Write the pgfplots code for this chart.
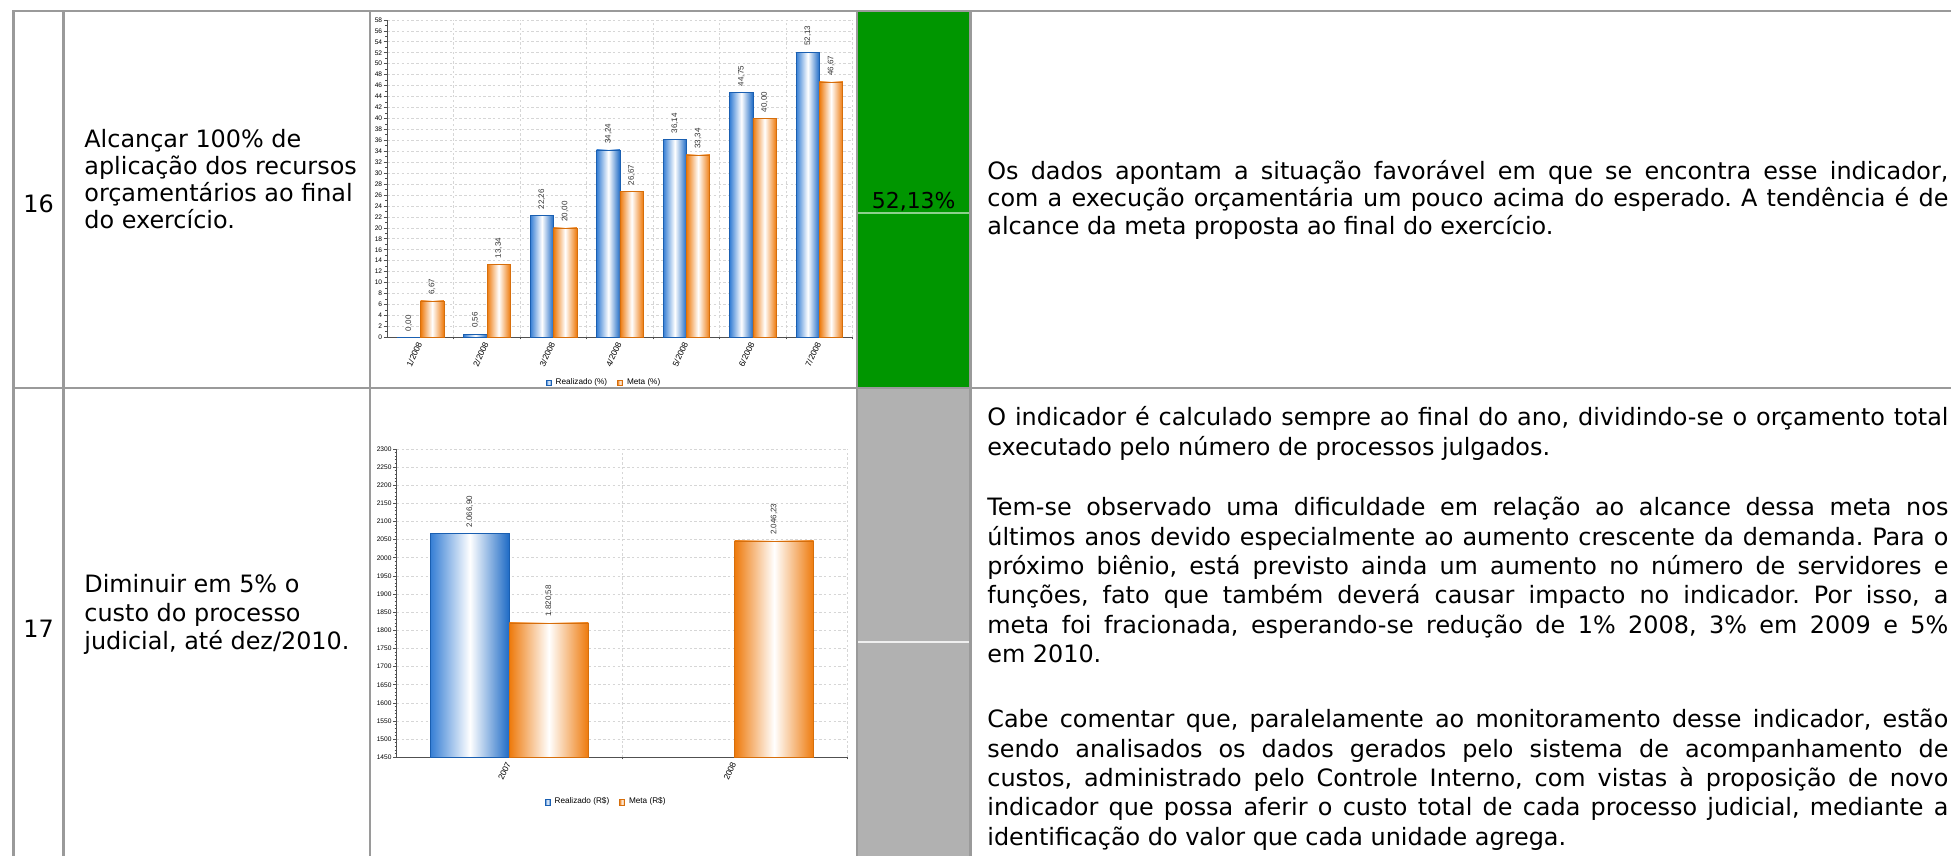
\documentclass[border=0pt]{standalone}
\usepackage{pgfplots}
\pgfplotsset{compat=1.18}
\usepackage{fontspec}
\setmainfont{DejaVu Sans}
\newfontfamily\chartfont{Liberation Sans}
\definecolor{tblline}{HTML}{9A9A9A}
\definecolor{cellgreen}{HTML}{009600}
\definecolor{cellgray}{HTML}{B1B1B1}
\definecolor{barblue}{HTML}{1F70D0}
\definecolor{barorange}{HTML}{EE7A0C}
\definecolor{gridc}{HTML}{D6D6D6}
\definecolor{axisc}{HTML}{505050}

\newcommand\bodyfont{\fontsize{11.95bp}{14bp}\selectfont\frenchspacing}
\newcommand\JL[1]{\makebox[480.5bp][s]{#1}}

\pgfplotsset{
  chartstyle/.style={
    scale only axis,
    axis x line*=bottom, axis y line*=left,
    axis line style={axisc, line width=0.5bp, -},
    enlargelimits=false,
    tick align=outside,
    major tick length=1.8bp, minor tick length=1bp,
    tick style={axisc, line width=0.35bp},
    major x tick style={draw=none},
    minor x tick style={axisc, line width=0.35bp},
    ymajorgrids, xminorgrids,
    major grid style={gridc, dash pattern=on 1.2bp off 1.2bp, line width=0.35bp},
    minor grid style={gridc, dash pattern=on 1.2bp off 1.2bp, line width=0.35bp},
    /pgf/number format/assume math mode=true,
    /pgf/number format/1000 sep={},
    yticklabel style={font=\chartfont\fontsize{3.3bp}{4bp}\selectfont, inner sep=0.6bp},
    xticklabel style={font=\chartfont\fontsize{4.2bp}{5bp}\selectfont, rotate=65, anchor=east, inner sep=0.8bp},
    nodes near coords={\pgfmathprintnumber[fixed,fixed zerofill,precision=2,use comma,1000 sep={.}]{\pgfplotspointmeta}},
    legend style={draw=none, fill=none, font=\chartfont\fontsize{4.1bp}{5bp}\selectfont, legend columns=2, /tikz/every even column/.append style={column sep=3bp}, inner sep=0pt},
    legend image code/.code={\draw[#1] (0bp,-1.3bp) rectangle (2.6bp,1.3bp);},
  },
  lblstyle/.style={every node near coord/.style={xshift=#1, rotate=90, anchor=west, font=\chartfont\fontsize{4bp}{5bp}\selectfont, inner xsep=3bp, inner ysep=0.5bp, color=black!80}},
  realstyle/.style={draw=barblue!85!black, line width=0.3bp, left color=barblue!90!white, right color=barblue!95!black, middle color=white},
  metastyle/.style={draw=barorange!90!black, line width=0.3bp, left color=barorange, right color=barorange, middle color=white},
}

\begin{document}
\begin{tikzpicture}
\useasboundingbox (0,0) rectangle (975.5bp,-428bp);
\clip (0,0) rectangle (975.5bp,-428bp);

\begin{scope}[x=0.5bp,y=-0.5bp, every node/.style={inner sep=0pt, font=\bodyfont}]
  % coloured cells
  \fill[cellgreen] (857,11) rectangle (970.5,388);
  \fill[cellgray] (857,388) rectangle (970.5,900);
  \draw[cellgreen!45!white, line width=0.6bp] (857,213) -- (970.5,213);
  \draw[white!80!cellgray, line width=0.6bp] (857,642) -- (970.5,642);
  % table lines
  \draw[tblline, line width=1.4bp] (12.8,11) -- (2000,11) (12.8,388) -- (2000,388);
  \foreach \x in {13.5,63.5,370,857,970.5} \draw[tblline, line width=1.4bp] (\x,10.3) -- (\x,900);

  % row 16
  \node[anchor=base] at (38.6,213) {16};
  \node[anchor=base west] at (84,148) {Alcançar 100\% de};
  \node[anchor=base west] at (84,174.7) {aplicação dos recursos};
  \node[anchor=base west] at (84,201.4) {orçamentários ao final};
  \node[anchor=base west] at (84,228.1) {do exercício.};
  \node[anchor=base, font=\fontsize{10.95bp}{13bp}\selectfont] at (913.7,209) {52,13\%};
  \node[anchor=base west] at (987,179.5) {\JL{Os dados apontam a situação favorável em que se encontra esse indicador,}};
  \node[anchor=base west] at (987,207) {\JL{com a execução orçamentária um pouco acima do esperado. A tendência é de}};
  \node[anchor=base west] at (987,234.5) {alcance da meta proposta ao final do exercício.};

  % row 17
  \node[anchor=base] at (38.6,638) {17};
  \node[anchor=base west] at (84,593) {Diminuir em 5\% o};
  \node[anchor=base west] at (84,621.5) {custo do processo};
  \node[anchor=base west] at (84,650) {judicial, até dez/2010.};

  \node[anchor=base west] at (987,426) {\JL{O indicador é calculado sempre ao final do ano, dividindo-se o orçamento total}};
  \node[anchor=base west] at (987,455.3) {executado pelo número de processos julgados.};
  \node[anchor=base west] at (987,516) {\JL{Tem-se observado uma dificuldade em relação ao alcance dessa meta nos}};
  \node[anchor=base west] at (987,545.3) {\JL{últimos anos devido especialmente ao aumento crescente da demanda. Para o}};
  \node[anchor=base west] at (987,574.6) {\JL{próximo biênio, está previsto ainda um aumento no número de servidores e}};
  \node[anchor=base west] at (987,603.9) {\JL{funções, fato que também deverá causar impacto no indicador. Por isso, a}};
  \node[anchor=base west] at (987,633.2) {\JL{meta foi fracionada, esperando-se redução de 1\% 2008, 3\% em 2009 e 5\%}};
  \node[anchor=base west] at (987,662.5) {em 2010.};
  \node[anchor=base west] at (987,728) {\JL{Cabe comentar que, paralelamente ao monitoramento desse indicador, estão}};
  \node[anchor=base west] at (987,757.3) {\JL{sendo analisados os dados gerados pelo sistema de acompanhamento de}};
  \node[anchor=base west] at (987,786.6) {\JL{custos, administrado pelo Controle Interno, com vistas à proposição de novo}};
  \node[anchor=base west] at (987,815.9) {\JL{indicador que possa aferir o custo total de cada processo judicial, mediante a}};
  \node[anchor=base west] at (987,845.2) {identificação do valor que cada unidade agrega.};
\end{scope}

% chart 16
\begin{axis}[chartstyle,
  at={(193.65bp,-168.65bp)}, anchor=south west,
  width=232.7bp, height=158.7bp,
  xmin=0.5, xmax=7.5, ymin=0, ymax=58,
  xtick={1,...,7},
  xticklabels={1/2008,2/2008,3/2008,4/2008,5/2008,6/2008,7/2008},
  minor xtick={1.5,2.5,...,7.5},
  ytick={0,2,...,58},
  minor y tick num=1,
  legend style={at={(0.468,-0.144)}, anchor=center},
  rb/.style={ybar, bar width=11.65bp, bar shift=-5.825bp, realstyle, forget plot, lblstyle=-5.825bp},
  mb/.style={ybar, bar width=11.65bp, bar shift=5.825bp, metastyle, forget plot, lblstyle=5.825bp},
]
% Realizado (%)
\addplot[rb] coordinates {(1,0)};
\addplot[rb] coordinates {(2,0.56)};
\addplot[rb] coordinates {(3,22.26)};
\addplot[rb] coordinates {(4,34.24)};
\addplot[rb] coordinates {(5,36.14)};
\addplot[rb] coordinates {(6,44.75)};
\addplot[rb] coordinates {(7,52.13)};
% Meta (%)
\addplot[mb] coordinates {(1,6.67)};
\addplot[mb] coordinates {(2,13.34)};
\addplot[mb] coordinates {(3,20.00)};
\addplot[mb] coordinates {(4,26.67)};
\addplot[mb] coordinates {(5,33.34)};
\addplot[mb] coordinates {(6,40.00)};
\addplot[mb] coordinates {(7,46.67)};
\addlegendimage{realstyle}\addlegendentry{Realizado (\%)}
\addlegendimage{metastyle}\addlegendentry{Meta (\%)}
\node[anchor=east, inner sep=0pt, font=\chartfont\bfseries\fontsize{3.9bp}{5bp}\selectfont, text=black!85] at (rel axis cs:1,0) [yshift=-15.2bp] {Mensal};
\end{axis}

% chart 17
\begin{axis}[chartstyle,
  at={(198.35bp,-378.65bp)}, anchor=south west,
  width=225.3bp, height=154.2bp,
  xmin=0.5, xmax=2.5, ymin=1450, ymax=2300,
  xtick={1,2}, xticklabels={2007,2008},
  minor xtick={1.5,2.5},
  ytick={1450,1500,...,2300},
  minor y tick num=4,
  legend style={at={(0.467,-0.146)}, anchor=center},
  rb/.style={ybar, bar width=39.5bp, bar shift=-19.75bp, realstyle, forget plot, lblstyle=-19.75bp},
  mb/.style={ybar, bar width=39.5bp, bar shift=19.75bp, metastyle, forget plot, lblstyle=19.75bp},
]
% Realizado (R$)
\addplot[rb] coordinates {(1,2066.90)};
% Meta (R$)
\addplot[mb] coordinates {(1,1820.58)};
\addplot[mb] coordinates {(2,2046.23)};
\addlegendimage{realstyle}\addlegendentry{Realizado (R\$)}
\addlegendimage{metastyle}\addlegendentry{Meta (R\$)}
\end{axis}
\end{tikzpicture}
\end{document}
